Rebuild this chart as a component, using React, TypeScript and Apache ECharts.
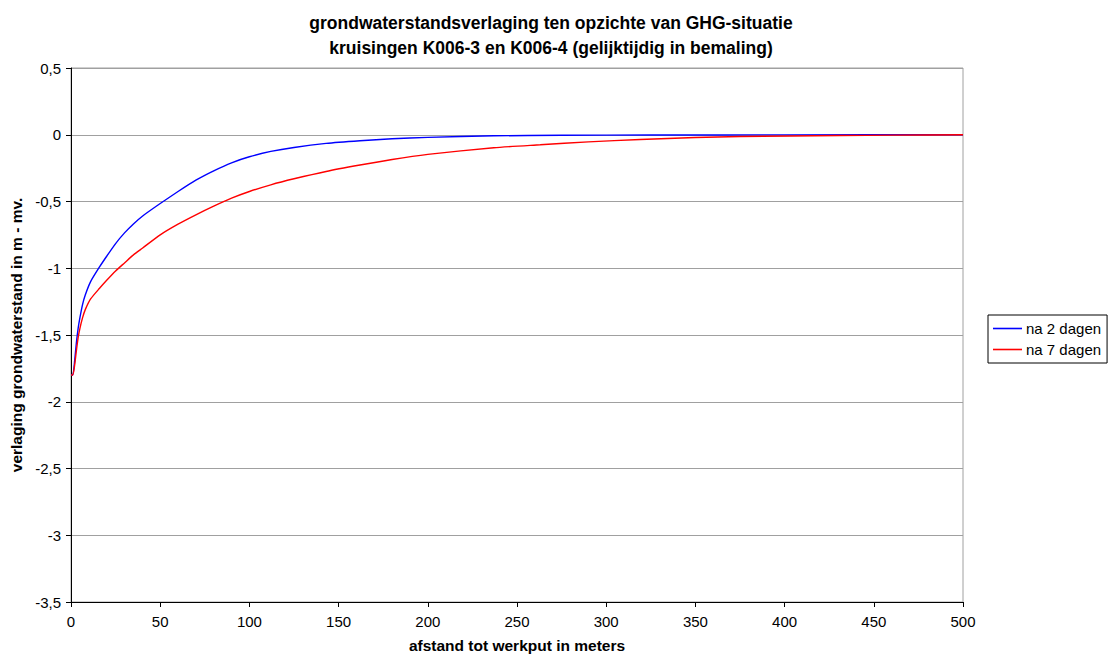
import React, { useEffect, useRef } from "react";
import * as echarts from "echarts";

// Distance from the pit (m) and drawdown (m below surface) after 2 days
const distance2 = [0, 1, 2, 3, 4, 5, 6.5, 8, 11, 16, 20, 25, 30, 35, 40, 50, 60, 70, 80, 90, 100, 112, 125, 143, 162, 180, 200, 237, 275, 325, 400, 500];
const drawdown2 = [-1.8, -1.8, -1.7, -1.56, -1.45, -1.37, -1.27, -1.2, -1.1, -0.99, -0.91, -0.815, -0.735, -0.668, -0.61, -0.515, -0.425, -0.34, -0.27, -0.21, -0.165, -0.125, -0.095, -0.065, -0.045, -0.03, -0.02, -0.008, -0.004, -0.002, -0.001, 0];

// Same, after 7 days
const distance7 = [0, 1, 2, 3, 4, 5, 6.5, 8, 11, 16, 20, 25, 30, 35, 40, 50, 60, 70, 80, 90, 100, 112, 125, 143, 162, 180, 200, 237, 263, 290, 319, 350, 375, 431, 461, 500];
const drawdown7 = [-1.8, -1.8, -1.73, -1.62, -1.52, -1.45, -1.37, -1.31, -1.23, -1.15, -1.09, -1.02, -0.96, -0.9, -0.85, -0.75, -0.67, -0.6, -0.535, -0.475, -0.425, -0.375, -0.33, -0.275, -0.227, -0.185, -0.147, -0.097, -0.075, -0.053, -0.036, -0.021, -0.013, -0.006, -0.003, 0];

const seriesNames = ["na 2 dagen", "na 7 dagen"];
const titleLines = [
  "grondwaterstandsverlaging ten opzichte van GHG-situatie",
  "kruisingen K006-3 en K006-4 (gelijktijdig in bemaling)",
];
const xAxisTitle = "afstand tot werkput in meters";
const yAxisTitle = "verlaging grondwaterstand in m - mv.";

const FONT = "'Liberation Sans', Arial, sans-serif";

const pairs = (xs: number[], ys: number[]) => xs.map((x, i) => [x, ys[i]]);

export default function App() {
  const ref = useRef<HTMLDivElement>(null);

  useEffect(() => {
    if (!ref.current) return;
    const chart = echarts.init(ref.current, undefined, { renderer: "svg" });
    chart.setOption({
      animation: false,
      backgroundColor: "#ffffff",
      textStyle: { fontFamily: FONT },
      title: {
        text: titleLines.join("\n"),
        left: 546,
        top: 5,
        textAlign: "center",
        textStyle: {
          fontFamily: FONT,
          fontSize: 17.5,
          fontWeight: "bold",
          color: "#000",
          lineHeight: 25,
        },
      },
      grid: {
        left: 71,
        top: 68,
        right: 156,
        bottom: 60,
        show: true,
        borderColor: "#a0a0a0",
        borderWidth: 1,
        containLabel: false,
        outerBoundsMode: "none",
      },
      legend: {
        orient: "vertical",
        left: 988,
        top: 315,
        padding: [6, 6, 6, 5],
        itemGap: 6,
        itemWidth: 29,
        itemHeight: 1.6,
        borderColor: "#000",
        borderWidth: 1,
        textStyle: { fontFamily: FONT, fontSize: 15, color: "#000", padding: [0, 0, 0, -1] },
        data: seriesNames.map((name) => ({ name, icon: "rect" })),
      },
      xAxis: {
        type: "value",
        min: 0,
        max: 500,
        interval: 50,
        name: xAxisTitle,
        nameLocation: "middle",
        nameGap: 35,
        nameTextStyle: { fontFamily: FONT, fontSize: 15.5, fontWeight: "bold", color: "#000" },
        axisLine: { show: true, onZero: false, lineStyle: { color: "#000", width: 1 } },
        axisTick: { show: true, inside: false, length: 5, lineStyle: { color: "#000" } },
        axisLabel: { fontFamily: FONT, fontSize: 15, color: "#000", margin: 12 },
        splitLine: { show: false },
      },
      yAxis: {
        type: "value",
        min: -3.5,
        max: 0.5,
        interval: 0.5,
        name: yAxisTitle,
        nameLocation: "middle",
        nameGap: 47,
        nameTextStyle: { fontFamily: FONT, fontSize: 15.5, fontWeight: "bold", color: "#000" },
        axisLine: { show: true, onZero: false, lineStyle: { color: "#000", width: 1 } },
        axisTick: { show: true, inside: false, length: 5, lineStyle: { color: "#000" } },
        axisLabel: {
          fontFamily: FONT,
          fontSize: 15,
          color: "#000",
          margin: 10,
          formatter: (v: number) => String(v).replace(".", ","),
        },
        splitLine: { show: true, lineStyle: { color: "#a0a0a0", width: 1 } },
      },
      series: [
        {
          name: seriesNames[0],
          type: "line",
          data: pairs(distance2, drawdown2),
          symbol: "none",
          smooth: 0.2,
          lineStyle: { color: "#0000ff", width: 1.4 },
          itemStyle: { color: "#0000ff" },
        },
        {
          name: seriesNames[1],
          type: "line",
          data: pairs(distance7, drawdown7),
          symbol: "none",
          smooth: 0.2,
          lineStyle: { color: "#ff0000", width: 1.4 },
          itemStyle: { color: "#ff0000" },
        },
      ],
    });
    return () => chart.dispose();
  }, []);

  return <div ref={ref} style={{ width: 1119, height: 662, margin: -8 }} />;
}
